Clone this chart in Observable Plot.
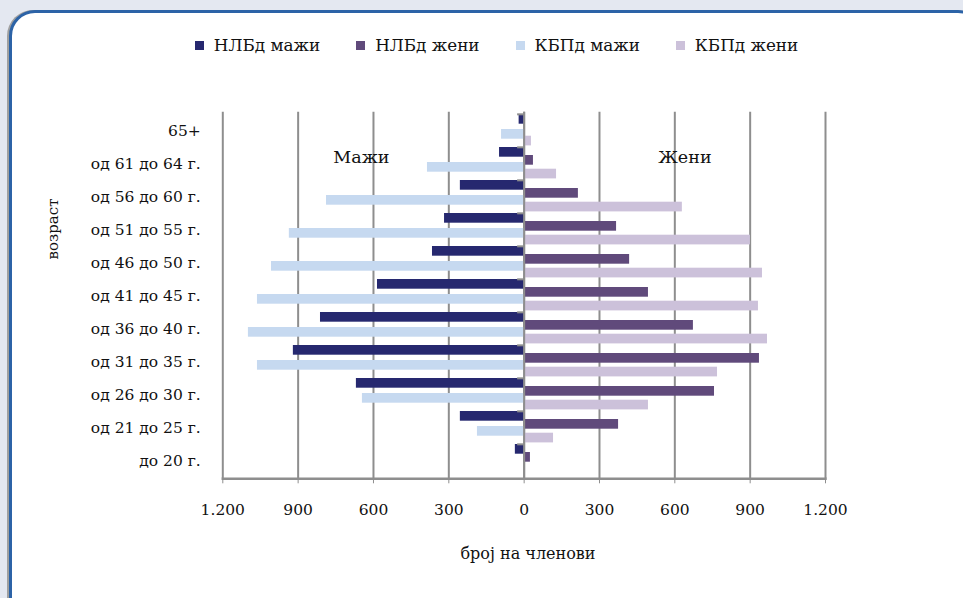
<!DOCTYPE html>
<html>
<head>
<meta charset="utf-8">
<script src="https://cdn.jsdelivr.net/npm/d3@7"></script>
<script src="https://cdn.jsdelivr.net/npm/@observablehq/plot@0.6"></script>
<style>
  html, body { margin: 0; padding: 0; }
  body { width: 963px; height: 598px; background: #e4e8f1; overflow: hidden; position: relative; font-family: "DejaVu Serif", "Liberation Serif", serif; color: #111; }
  #frame { position: absolute; left: 9px; top: 10px; width: 975px; height: 620px; box-sizing: border-box; border: 3px solid #2c63a7; border-radius: 26px; background: #fff; box-shadow: -2px 0 0 #a0a0a0; }
  #chart { position: absolute; left: 0; top: 0; }
  #legend { position: absolute; top: 35px; left: 15px; width: 963px; display: flex; justify-content: center; gap: 36px; font-size: 16.8px; }
  .item { display: flex; align-items: center; }
  .sw { width: 9px; height: 9px; margin-right: 10px; }
  #ytitle { position: absolute; left: 53px; top: 229px; transform: translate(-50%, -50%) rotate(-90deg); font-size: 15px; white-space: nowrap; }
  #xtitle { position: absolute; left: 528px; top: 553px; transform: translate(-50%, -50%); font-size: 16px; white-space: nowrap; }
</style>
</head>
<body>
<div id="frame"></div>
<div id="chart"></div>
<div id="legend"></div>
<div id="ytitle">возраст</div>
<div id="xtitle">број на членови</div>
<script>
// categories, top to bottom
const categories = ["65+", "од 61 до 64 г.", "од 56 до 60 г.", "од 51 до 55 г.", "од 46 до 50 г.", "од 41 до 45 г.", "од 36 до 40 г.", "од 31 до 35 г.", "од 26 до 30 г.", "од 21 до 25 г.", "до 20 г."];
// series values (number of members)
const nlbMen   = [20, 98, 254, 317, 365, 584, 811, 919, 668, 254, 35];
const nlbWomen = [0, 37, 216, 368, 420, 495, 674, 937, 758, 376, 25];
const kbpMen   = [90, 385, 787, 935, 1006, 1062, 1098, 1062, 644, 186, 0];
const kbpWomen = [29, 129, 630, 901, 949, 933, 969, 770, 495, 117, 0];
const seriesNames = ["НЛБд мажи", "НЛБд жени", "КБПд мажи", "КБПд жени"];
const seriesColors = ["#26286f", "#604a7b", "#c6d9f0", "#ccc1da"];
const xTicks = [-1200, -900, -600, -300, 0, 300, 600, 900, 1200];
const sideLabels = [{label: "Мажи", x: -648, y: "од 61 до 64 г."}, {label: "Жени", x: 640, y: "од 61 до 64 г."}];

const series = [
  {name: seriesNames[0], values: nlbMen, sign: -1, color: seriesColors[0], inset: [0, 23.3]},
  {name: seriesNames[1], values: nlbWomen, sign: 1, color: seriesColors[1], inset: [8, 15.3]},
  {name: seriesNames[2], values: kbpMen, sign: -1, color: seriesColors[2], inset: [15, 8.3]},
  {name: seriesNames[3], values: kbpWomen, sign: 1, color: seriesColors[3], inset: [21.7, 1.6]}
];

const fmt = d => d3.format(",")(Math.abs(d)).replace(/,/g, ".");
const grey = "#8e8e8e";

const barMarks = series.map(s => Plot.barX(
  categories.map((c, i) => ({cat: c, v: s.sign * s.values[i]})),
  {x: "v", y: "cat", fill: s.color, insetTop: s.inset[0], insetBottom: s.inset[1]}
));

const plot = Plot.plot({
  width: 963,
  height: 598,
  marginLeft: 222.3,
  marginRight: 138,
  marginTop: 111.7,
  marginBottom: 119.7,
  style: {background: "transparent", fontFamily: "DejaVu Serif, Liberation Serif, serif", color: "#111"},
  x: {domain: [-1200, 1200], ticks: xTicks, tickFormat: fmt, label: null},
  y: {type: "band", domain: categories, paddingInner: 0, paddingOuter: 0, label: null},
  marks: [
    Plot.gridX(xTicks, {stroke: grey, strokeOpacity: 1, strokeWidth: 2}),
    ...barMarks,
    Plot.ruleY(categories, {y: d => d, x1: -26, x2: 0, stroke: grey, strokeWidth: 2, dy: -16.67}),
    Plot.ruleX([0], {stroke: grey, strokeWidth: 2}),
    Plot.frame({anchor: "bottom", stroke: grey, strokeWidth: 2.5}),
    Plot.axisX({ticks: xTicks, tickFormat: fmt, tickSize: 5, tickPadding: 20, stroke: grey, fontSize: 15.5, label: null}),
    Plot.axisY({anchor: "left", tickSize: 0, tickPadding: 22, fontSize: 15.5, label: null}),
    Plot.text(sideLabels, {x: "x", y: "y", text: "label", dy: -7, fontSize: 17.5})
  ]
});
document.getElementById("chart").appendChild(plot);

const legend = document.getElementById("legend");
seriesNames.forEach((n, i) => {
  const it = document.createElement("div");
  it.className = "item";
  const sw = document.createElement("span");
  sw.className = "sw";
  sw.style.background = seriesColors[i];
  const t = document.createElement("span");
  t.textContent = n;
  it.appendChild(sw); it.appendChild(t);
  legend.appendChild(it);
});
</script>
</body>
</html>
